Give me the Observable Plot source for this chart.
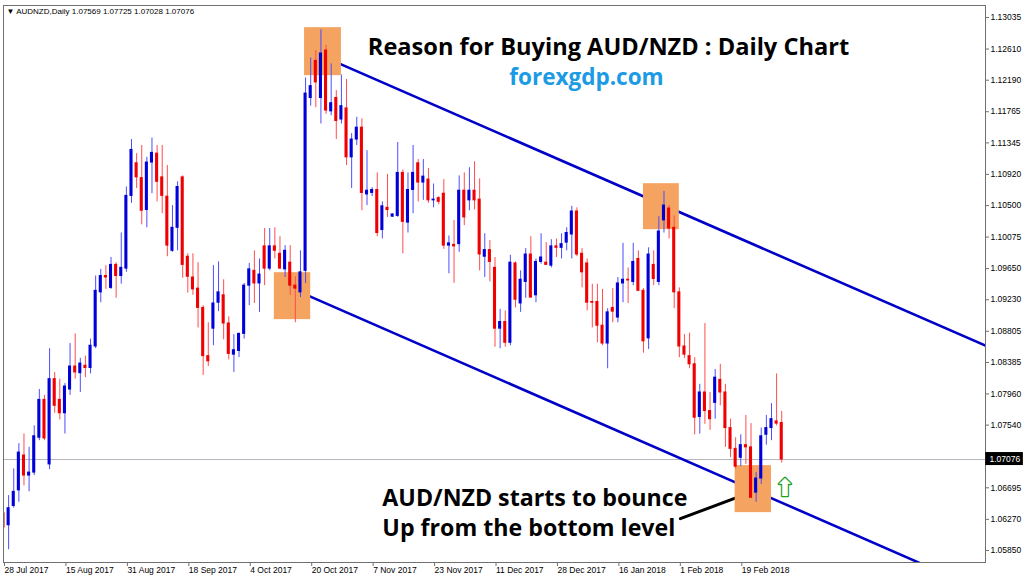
<!DOCTYPE html>
<html><head><meta charset="utf-8">
<script src="https://cdn.jsdelivr.net/npm/d3@7"></script>
<script src="https://cdn.jsdelivr.net/npm/@observablehq/plot@0.6"></script>
<style>
html,body{margin:0;padding:0;background:#fff;}
#chart svg{display:block;}
</style></head><body><div id="chart"></div>
<script>
// ---- data (AUDNZD daily bars, 28 Jul 2017 .. 1 Mar 2018) ----
const opens = [1.0635,1.0619,1.0645,1.0666,1.0713,1.0686,1.0690,1.0737,1.0788,1.0701,
1.0816,1.0788,1.0770,1.0802,1.0833,1.0824,1.0834,1.0831,1.0860,1.0933,
1.0955,1.0939,1.0970,1.0955,1.0965,1.1063,1.1107,1.1087,1.1044,1.1108,
1.1120,1.1088,1.1062,1.0989,1.1020,1.1088,1.0981,1.0953,1.0938,1.0912,
1.0847,1.0884,1.0919,1.0929,1.0891,1.0849,1.0854,1.0877,1.0942,1.0962,
1.0945,1.0995,1.0965,1.0995,1.0985,1.0964,1.0973,1.0942,1.0933,1.0962,
1.1195,1.1245,1.1195,1.1259,1.1177,1.1195,1.1166,1.1181,1.1115,1.1139,
1.1155,1.1065,1.1067,1.1071,1.1017,1.1047,1.1035,1.1036,1.1094,1.1027,
1.1071,1.1107,1.1081,1.1085,1.1057,1.1060,1.1066,1.0996,1.0997,1.0998,
1.1070,1.1057,1.1070,1.1058,1.0981,1.0990,1.0966,1.0884,1.0893,1.0865,
1.0972,1.0918,1.0947,1.0984,1.0929,1.0974,1.0973,1.0969,1.0995,1.0993,
1.1000,1.1011,1.1042,1.0985,1.0972,1.0920,1.0920,1.0888,1.0864,1.0912,
1.0899,1.0945,1.0950,1.0947,1.0978,1.0935,1.0871,1.0970,1.0947,1.1030,
1.1046,1.1020,1.0933,1.0860,1.0847,1.0836,1.0765,1.0798,1.0773,1.0784,
1.0815,1.0798,1.0750,1.0722,1.0710,1.0727,1.0724,1.0663,1.0682,1.0741,
1.0750,1.0759,1.07569];
const highs = [1.0666,1.0659,1.0695,1.0729,1.0742,1.0724,1.0753,1.0802,1.0794,1.0857,
1.0825,1.0816,1.0810,1.0864,1.0877,1.0844,1.0847,1.0870,1.0955,1.0964,
1.0969,1.0980,1.0973,1.1013,1.1075,1.1139,1.1120,1.1131,1.1115,1.1141,
1.1131,1.1131,1.1104,1.1050,1.1082,1.1090,1.0985,1.0985,1.0973,1.0915,
1.0892,1.0969,1.0974,1.0950,1.0900,1.0876,1.0878,1.0945,1.0972,1.0989,
1.0978,1.1019,1.1019,1.1020,1.1008,1.0996,1.0996,1.0954,1.0989,1.1222,
1.1249,1.1259,1.1287,1.1266,1.1241,1.1205,1.1226,1.1220,1.1147,1.1169,
1.1167,1.1124,1.1074,1.1094,1.1055,1.1092,1.1039,1.1135,1.1098,1.1094,
1.1131,1.1112,1.1112,1.1100,1.1079,1.1062,1.1085,1.1009,1.1030,1.1090,
1.1094,1.1101,1.1109,1.1086,1.1012,1.1003,1.0980,1.0910,1.0908,1.0983,
1.0974,1.0962,1.0992,1.1008,1.0978,1.1012,1.1000,1.1004,1.1005,1.1012,
1.1020,1.1049,1.1047,1.0992,1.0978,1.0944,1.0944,1.0937,1.0911,1.0938,
1.0953,1.0999,1.0966,1.0999,1.0989,1.0938,1.0993,1.0989,1.1035,1.1069,
1.1050,1.1036,1.0939,1.0876,1.0878,1.0845,1.0809,1.0891,1.0798,1.0829,
1.0836,1.0809,1.0762,1.0737,1.0741,1.0767,1.0756,1.0690,1.0750,1.0767,
1.0783,1.0823,1.07725];
const lows = [1.0605,1.0586,1.0642,1.0650,1.0672,1.0664,1.0686,1.0733,1.0733,1.0694,
1.0770,1.0761,1.0742,1.0794,1.0816,1.0798,1.0818,1.0823,1.0857,1.0919,
1.0937,1.0937,1.0925,1.0944,1.0960,1.1053,1.1073,1.1024,1.1020,1.1066,
1.1055,1.1039,1.0981,1.0987,1.0989,1.0952,1.0932,1.0929,1.0885,1.0821,
1.0833,1.0861,1.0907,1.0869,1.0842,1.0825,1.0845,1.0870,1.0915,1.0918,
1.0906,1.0942,1.0962,1.0978,1.0964,1.0953,1.0929,1.0892,1.0926,1.0945,
1.1184,1.1182,1.1160,1.1173,1.1171,1.1139,1.1160,1.1104,1.1073,1.1131,
1.1043,1.1050,1.1062,1.1008,1.1005,1.1034,1.1034,1.1034,1.0985,1.1013,
1.1039,1.1055,1.1057,1.1053,1.1047,1.1051,1.0991,1.0958,1.0945,1.0987,
1.1023,1.1043,1.1044,1.0962,1.0953,1.0947,1.0859,1.0857,1.0859,1.0861,
1.0912,1.0906,1.0925,1.0925,1.0919,1.0971,1.0970,1.0966,1.0980,1.0978,
1.0989,1.0978,1.0981,1.0939,1.0908,1.0885,1.0865,1.0861,1.0830,1.0892,
1.0892,1.0919,1.0918,1.0942,1.0934,1.0851,1.0856,1.0942,1.0942,1.1013,
1.1005,1.0911,1.0845,1.0844,1.0830,1.0741,1.0742,1.0755,1.0747,1.0762,
1.0780,1.0724,1.0710,1.0695,1.0698,1.0701,1.0655,1.0650,1.0674,1.0727,
1.0733,1.0753,1.07028];
const closes = [1.0616,1.0642,1.0664,1.0717,1.0686,1.0690,1.0739,1.0788,1.0736,1.0816,
1.0780,1.0770,1.0806,1.0833,1.0825,1.0837,1.0831,1.0861,1.0935,1.0955,
1.0953,1.0970,1.0955,1.0966,1.1063,1.1125,1.1088,1.1043,1.1108,1.1121,
1.1082,1.1063,1.0996,1.1020,1.1075,1.0970,1.0954,1.0937,1.0912,1.0847,
1.0840,1.0918,1.0933,1.0891,1.0850,1.0855,1.0877,1.0942,1.0964,1.0945,
1.0957,1.0965,1.0995,1.0989,1.0965,1.0989,1.0942,1.0938,1.0960,1.1201,
1.1211,1.1216,1.1255,1.1178,1.1188,1.1164,1.1184,1.1115,1.1139,1.1155,
1.1067,1.1070,1.1071,1.1013,1.1049,1.1044,1.1038,1.1094,1.1028,1.1071,
1.1094,1.1081,1.1089,1.1057,1.1058,1.1055,1.0996,1.0999,1.0995,1.1070,
1.1034,1.1070,1.1057,1.0984,1.0990,1.0974,1.0884,1.0893,1.0865,1.0973,
1.0923,1.0950,1.0984,1.0926,1.0974,1.0980,1.0970,1.0995,1.0993,1.0998,
1.1013,1.1042,1.0984,1.0960,1.0919,1.0919,1.0888,1.0864,1.0906,1.0907,
1.0945,1.0950,1.0949,1.0974,1.0935,1.0867,1.0984,1.0951,1.1015,1.1050,
1.1019,1.0933,1.0860,1.0849,1.0836,1.0764,1.0798,1.0773,1.0762,1.0818,
1.0798,1.0750,1.0722,1.0698,1.0727,1.0724,1.0656,1.0682,1.0739,1.0750,
1.0762,1.0756,1.07076];

const dateTickIndex = [0,12,24,36,48,60,72,84,96,108,120,132,144];
const dateTickLabels = ["28 Jul 2017","15 Aug 2017","31 Aug 2017","18 Sep 2017","4 Oct 2017",
 "20 Oct 2017","7 Nov 2017","23 Nov 2017","11 Dec 2017","28 Dec 2017","16 Jan 2018","1 Feb 2018","19 Feb 2018"];
const priceTicks = [1.13035,1.12610,1.12190,1.11765,1.11345,1.10920,1.10500,1.10075,1.09650,
 1.09230,1.08805,1.08385,1.07960,1.07540,1.07115,1.06695,1.06270,1.05850];

const symbolName = "AUDNZD,Daily";
const titleText = "Reason for Buying AUD/NZD : Daily Chart";
const siteText = "forexgdp.com";

// channel lines (bar index, price)
const channelUpper = [{i:59.8, p:1.12588},{i:191.8, p:1.08611}];
const channelLower = [{i:54.7, p:1.09430},{i:178.8, p:1.05686}];
// highlight boxes (bar index range, price range)
const boxes = [
 {i1:58.8, i2:66.0, p1:1.12251, p2:1.12898},
 {i1:52.9, i2:60.0, p1:1.08962, p2:1.09595},
 {i1:125.0, i2:132.0, p1:1.10175, p2:1.10795},
 {i1:142.9, i2:150.0, p1:1.06360, p2:1.06994}
];
const pointer = [{i:132.2, p:1.06279},{i:146.3, p:1.06643}];
const notes = [
 {i:74.0, p:1.06545, text:"AUD/NZD starts to bounce"},
 {i:74.0, p:1.06148, text:"Up from the bottom level"}
];
const upArrow = [{i:152.6, p:1.06684}];

// ---- build ----
const candles = opens.map((o, i) => ({i, o, h: highs[i], l: lows[i], c: closes[i], up: closes[i] >= o}));
const last = candles[candles.length - 1];
const header = "\u25BC " + symbolName + " " + [last.o, last.h, last.l, last.c].map(v => v.toFixed(5)).join(" ");
const xMax = 191.8;
const bold = "'Open Sans', 'Noto Sans', sans-serif";

const chart = Plot.plot({
  width: 1024, height: 578,
  marginLeft: 3, marginRight: 39, marginTop: 5, marginBottom: 16,
  style: {fontFamily: "'Liberation Sans', Arial, sans-serif", fontSize: "8.5px", background: "#fff", overflow: "visible"},
  x: {domain: [0, xMax]},
  y: {domain: [1.05688, 1.13197]},
  color: {type: "identity"},
  marks: [
    Plot.ruleY([last.c], {stroke: "#b4b4bc", strokeWidth: 1}),
    Plot.line(channelUpper, {x: "i", y: "p", stroke: "#0000c8", strokeWidth: 2.6, clip: true}),
    Plot.line(channelLower, {x: "i", y: "p", stroke: "#0000c8", strokeWidth: 2.6, clip: true}),
    Plot.line(pointer, {x: "i", y: "p", stroke: "#000", strokeWidth: 3}),
    Plot.rect(boxes, {x1: "i1", x2: "i2", y1: "p1", y2: "p2", fill: "#f4a460"}),
    Plot.ruleX(candles, {x: "i", y1: "l", y2: "h", stroke: d => d.up ? "#4d4dff" : "#ff4d4d", strokeWidth: 1, clip: true}),
    Plot.rect(candles, {x1: d => d.i - 0.3, x2: d => d.i + 0.3, y1: "o", y2: "c",
      fill: d => d.up ? "#0000d8" : "#f00000", insetTop: -0.5, insetBottom: -0.5, clip: true}),
    Plot.frame({stroke: "#707070"}),
    Plot.axisY({anchor: "right", ticks: priceTicks, tickFormat: d => Math.abs(d - last.c) < 0.0006 ? "" : d.toFixed(5),
      tickSize: 3, tickPadding: 2, stroke: "#707070", fill: "#000"}),
    Plot.axisX({anchor: "bottom", ticks: dateTickIndex, tickFormat: d => dateTickLabels[dateTickIndex.indexOf(d)],
      tickSize: 4, tickPadding: 0, textAnchor: "start", dx: 1, stroke: "#707070", fill: "#000"}),
    Plot.rect([last], {x1: () => xMax + 0.05, x2: () => xMax + 7.4, y1: "c", y2: "c", insetTop: -7, insetBottom: -6, fill: "#000", clip: false}),
    Plot.text([last], {x: () => xMax, y: "c", text: d => d.c.toFixed(5), dx: 4, textAnchor: "start", fill: "#fff", fontSize: 8.5}),
    Plot.text([header], {frameAnchor: "top-left", dx: 3, dy: 3, lineAnchor: "top", fill: "#000", fontSize: 8}),
    Plot.text([titleText], {frameAnchor: "top", dx: 114, dy: 33, fontSize: 23.6, fontWeight: "bold", fontFamily: bold, fill: "#000"}),
    Plot.text([siteText], {frameAnchor: "top", dx: 92, dy: 64, fontSize: 22.5, fontWeight: "bold", fontFamily: bold, fill: "#1b9be3"}),
    Plot.text(notes, {x: "i", y: "p", text: "text", textAnchor: "start", fontSize: 23.2, fontWeight: "bold", fontFamily: bold, fill: "#000"}),
    Plot.text(upArrow, {x: "i", y: "p", text: () => "\u2B06", fontSize: 24, fontFamily: "'DejaVu Sans', sans-serif",
      fill: "#fff", stroke: "#1ca01c", strokeWidth: 2.6})
  ]
});
document.getElementById("chart").appendChild(chart);
</script>
</body></html>
